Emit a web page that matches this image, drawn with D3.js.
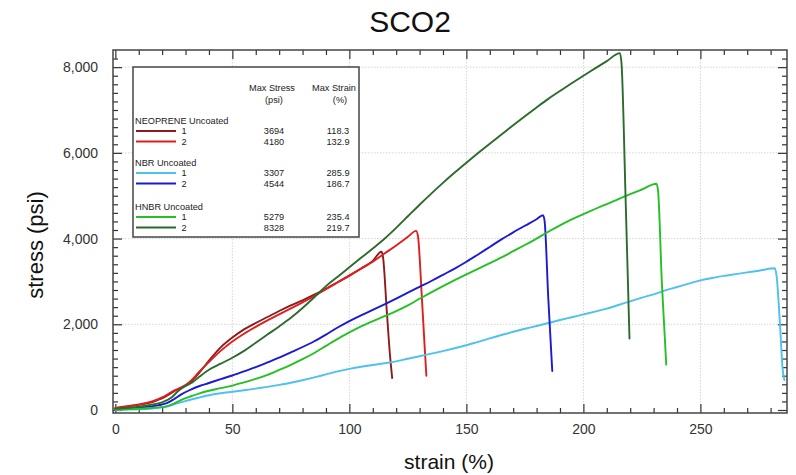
<!DOCTYPE html>
<html>
<head>
<meta charset="utf-8">
<script src="https://cdn.jsdelivr.net/npm/d3@7"></script>
<style>
  html, body { margin: 0; padding: 0; background: #fff; }
  svg { display: block; font-family: "Liberation Sans", Arial, sans-serif; }
</style>
</head>
<body>
<svg id="chart" width="796" height="475"></svg>
<script>
// ---------------- DATA ----------------
const chartTitle = "SCO2";
const xLabel = "strain (%)";
const yLabel = "stress (psi)";

const xMajorTicks = [0, 50, 100, 150, 200, 250];
const yMajorTicks = [0, 2000, 4000, 6000, 8000];

// [strain %, stress psi]
const neoprene1 = [[0,40],[5,80],[10,120],[15,170],[18,230],[21,300],[24,400],[27,490],[30,570],[33,700],[36,880],[40,1150],[45,1460],[50,1690],[55,1880],[60,2030],[65,2170],[70,2310],[75,2440],[80,2560],[85,2690],[90,2830],[95,2980],[100,3130],[105,3300],[110,3480],[113.7,3694],[114.4,3560],[116,2300],[117.4,1250],[118.3,746]];
const neoprene2 = [[0,50],[5,90],[10,130],[15,190],[18,250],[21,320],[24,420],[27,500],[30,580],[33,720],[36,900],[40,1120],[45,1380],[50,1600],[55,1780],[60,1940],[65,2090],[70,2230],[75,2370],[80,2510],[85,2660],[90,2820],[95,2980],[100,3140],[105,3300],[110,3460],[115,3650],[120,3840],[125,4040],[128.5,4180],[129.3,4060],[131,2600],[132.2,1450],[132.9,800]];
const nbr1 = [[0,0],[5,8],[10,15],[15,30],[20,60],[23,100],[26,150],[30,210],[35,280],[40,345],[45,390],[50,425],[55,460],[60,500],[65,540],[70,585],[75,635],[80,695],[85,760],[90,830],[95,900],[100,960],[105,1010],[110,1050],[115,1090],[120,1135],[125,1195],[130,1255],[135,1315],[140,1375],[145,1440],[150,1510],[155,1590],[160,1670],[165,1750],[170,1825],[175,1895],[180,1960],[185,2030],[190,2100],[195,2165],[200,2230],[205,2295],[210,2365],[215,2450],[220,2535],[225,2620],[230,2700],[235,2790],[240,2870],[245,2950],[250,3025],[255,3080],[260,3130],[265,3170],[270,3210],[275,3250],[281.8,3307],[282.5,3150],[284,2000],[285.1,970],[285.9,700]];
const nbr2 = [[0,20],[5,35],[10,55],[15,85],[19,117],[22,160],[25,250],[28,360],[32,470],[36,560],[40,630],[45,720],[50,805],[55,900],[60,1000],[65,1110],[70,1220],[75,1345],[80,1470],[85,1605],[90,1760],[95,1925],[100,2075],[105,2210],[110,2335],[115,2465],[120,2600],[125,2740],[130,2875],[135,3010],[140,3155],[145,3300],[150,3460],[155,3630],[160,3805],[165,3980],[170,4145],[175,4300],[180,4450],[182.7,4544],[183.4,4420],[185,2600],[186.7,910]];
const hnbr1 = [[0,10],[5,18],[10,28],[15,45],[19,62],[22,85],[25,150],[28,230],[32,315],[36,390],[40,450],[45,510],[50,570],[55,645],[60,725],[65,820],[70,935],[75,1055],[80,1185],[85,1330],[90,1495],[95,1660],[100,1810],[105,1950],[110,2075],[115,2190],[120,2305],[125,2440],[130,2595],[135,2745],[140,2890],[145,3030],[150,3165],[155,3295],[160,3425],[165,3560],[170,3705],[175,3850],[180,4000],[185,4160],[190,4310],[195,4450],[200,4570],[205,4690],[210,4805],[215,4920],[220,5035],[225,5145],[231.2,5279],[231.9,5120],[233.5,3000],[235.4,1060]];
const hnbr2 = [[0,30],[5,50],[10,80],[15,120],[20,180],[24,290],[27,450],[30,560],[33,650],[36,780],[40,940],[45,1080],[50,1220],[55,1380],[60,1570],[65,1760],[70,1950],[75,2150],[80,2380],[85,2630],[90,2890],[95,3110],[100,3330],[105,3550],[110,3770],[115,3995],[120,4250],[125,4520],[130,4790],[135,5050],[140,5300],[145,5540],[150,5770],[155,5995],[160,6215],[165,6430],[170,6645],[175,6855],[180,7060],[185,7260],[190,7445],[195,7625],[200,7800],[205,7970],[210,8140],[215.6,8328],[216.3,8080],[218,5000],[219.7,1670]];

const groupNames = ["NEOPRENE Uncoated", "NBR Uncoated", "HNBR Uncoated"];
const specimenLabels = ["1", "2"];
const maxStress = [3694, 4180, 3307, 4544, 5279, 8328];
const maxStrain = ["118.3", "132.9", "285.9", "186.7", "235.4", "219.7"];
const seriesColors = ["#8c1c1c", "#e01e1e", "#4fc1ee", "#1a1ad4", "#24c024", "#2b6b2b"];
const seriesData = [neoprene1, neoprene2, nbr1, nbr2, hnbr1, hnbr2];

// ---------------- CHART ----------------
const svg = d3.select("#chart");
const L = 113, R = 787, T = 50, B = 413;

const x = d3.scaleLinear().domain([-1, 287]).range([L, R]);
const y = d3.scaleLinear().domain([-70, 8400]).range([B, T]);

// grid
const grid = svg.append("g");
grid.selectAll(".gx").data(xMajorTicks.filter(d => d > 0)).join("line")
  .attr("x1", d => x(d)).attr("x2", d => x(d)).attr("y1", T).attr("y2", B)
  .attr("stroke", "#d4d4d4").attr("stroke-width", 1).attr("stroke-dasharray", "1.5,1.5");
grid.selectAll(".gy").data(yMajorTicks.filter(d => d > 0)).join("line")
  .attr("x1", L).attr("x2", R).attr("y1", d => y(d)).attr("y2", d => y(d))
  .attr("stroke", "#d4d4d4").attr("stroke-width", 1).attr("stroke-dasharray", "1.5,1.5");

// axes (ticks inward)
const xMinor = d3.range(0, 290, 10).filter(d => d % 50 !== 0);
const yMinor = d3.range(0, 8400, 200).filter(d => d % 2000 !== 0);
const tickColor = "#333";

function styleAxis(g) {
  g.select(".domain").remove();
  g.selectAll(".tick line").attr("stroke", tickColor).attr("stroke-width", 1.2);
}

// bottom major with labels
svg.append("g").attr("transform", `translate(0,${B})`)
  .call(d3.axisBottom(x).tickValues(xMajorTicks).tickSizeInner(-9).tickSizeOuter(0).tickPadding(11).tickFormat(d3.format("d")))
  .call(styleAxis)
  .call(g => g.selectAll("text").attr("font-size", 14).attr("fill", "#333").attr("font-family", "Liberation Sans, Arial, sans-serif"));
svg.append("g").attr("transform", `translate(0,${B})`)
  .call(d3.axisBottom(x).tickValues(xMinor).tickSizeInner(-5).tickSizeOuter(0).tickFormat(""))
  .call(styleAxis);
// top
svg.append("g").attr("transform", `translate(0,${T})`)
  .call(d3.axisTop(x).tickValues(xMajorTicks).tickSizeInner(-9).tickSizeOuter(0).tickFormat(""))
  .call(styleAxis);
svg.append("g").attr("transform", `translate(0,${T})`)
  .call(d3.axisTop(x).tickValues(xMinor).tickSizeInner(-5).tickSizeOuter(0).tickFormat(""))
  .call(styleAxis);
// left
svg.append("g").attr("transform", `translate(${L},0)`)
  .call(d3.axisLeft(y).tickValues(yMajorTicks).tickSizeInner(-9).tickSizeOuter(0).tickPadding(15).tickFormat(d3.format(",")))
  .call(styleAxis)
  .call(g => g.selectAll("text").attr("font-size", 14).attr("fill", "#333").attr("font-family", "Liberation Sans, Arial, sans-serif"));
svg.append("g").attr("transform", `translate(${L},0)`)
  .call(d3.axisLeft(y).tickValues(yMinor).tickSizeInner(-5).tickSizeOuter(0).tickFormat(""))
  .call(styleAxis);
// right
svg.append("g").attr("transform", `translate(${R},0)`)
  .call(d3.axisRight(y).tickValues(yMajorTicks).tickSizeInner(-9).tickSizeOuter(0).tickFormat(""))
  .call(styleAxis);
svg.append("g").attr("transform", `translate(${R},0)`)
  .call(d3.axisRight(y).tickValues(yMinor).tickSizeInner(-5).tickSizeOuter(0).tickFormat(""))
  .call(styleAxis);

// clip
svg.append("clipPath").attr("id", "plotclip").append("rect")
  .attr("x", L).attr("y", T).attr("width", R - L).attr("height", B - T);

// series lines
const line = d3.line().x(d => x(d[0])).y(d => y(d[1])).curve(d3.curveMonotoneX);
svg.append("g").attr("clip-path", "url(#plotclip)")
  .selectAll("path").data(seriesData).join("path")
  .attr("d", line)
  .attr("fill", "none")
  .attr("stroke", (d, i) => seriesColors[i])
  .attr("stroke-width", 1.9)
  .attr("stroke-linejoin", "round")
  .attr("stroke-linecap", "round");

// plot frame
svg.append("rect").attr("x", L).attr("y", T).attr("width", R - L).attr("height", B - T)
  .attr("fill", "none").attr("stroke", "#444").attr("stroke-width", 1.5);

// titles
svg.append("text").attr("x", 410).attr("y", 32).attr("text-anchor", "middle")
  .attr("font-size", 30).attr("fill", "#111").text(chartTitle);
svg.append("text").attr("x", 449).attr("y", 469).attr("text-anchor", "middle")
  .attr("font-size", 21).attr("fill", "#111").text(xLabel);
svg.append("text").attr("transform", "translate(43,245) rotate(-90)").attr("text-anchor", "middle")
  .attr("font-size", 22).attr("fill", "#111").text(yLabel);

// legend
const lg = svg.append("g").attr("font-size", 9.2).attr("fill", "#222");
lg.append("rect").attr("x", 133).attr("y", 67).attr("width", 226).attr("height", 170)
  .attr("fill", "#fff").attr("stroke", "#444").attr("stroke-width", 1.5);
lg.append("text").attr("x", 272).attr("y", 90.5).attr("text-anchor", "middle").text("Max Stress");
lg.append("text").attr("x", 274).attr("y", 103).attr("text-anchor", "middle").text("(psi)");
lg.append("text").attr("x", 334).attr("y", 90.5).attr("text-anchor", "middle").text("Max Strain");
lg.append("text").attr("x", 340).attr("y", 103).attr("text-anchor", "middle").text("(%)");

const groupTop = [124, 166, 210];
groupNames.forEach((g, gi) => {
  lg.append("text").attr("x", 135).attr("y", groupTop[gi]).text(g);
  specimenLabels.forEach((s, si) => {
    const idx = gi * 2 + si;
    const ly = groupTop[gi] + 7 + si * 10.5;
    lg.append("line").attr("x1", 136).attr("x2", 176).attr("y1", ly).attr("y2", ly)
      .attr("stroke", seriesColors[idx]).attr("stroke-width", 1.9);
    lg.append("text").attr("x", 181.5).attr("y", ly + 3.3).text(s);
    lg.append("text").attr("x", 274).attr("y", ly + 3.3).attr("text-anchor", "middle").text(maxStress[idx]);
    lg.append("text").attr("x", 338).attr("y", ly + 3.3).attr("text-anchor", "middle").text(maxStrain[idx]);
  });
});
</script>
</body>
</html>
